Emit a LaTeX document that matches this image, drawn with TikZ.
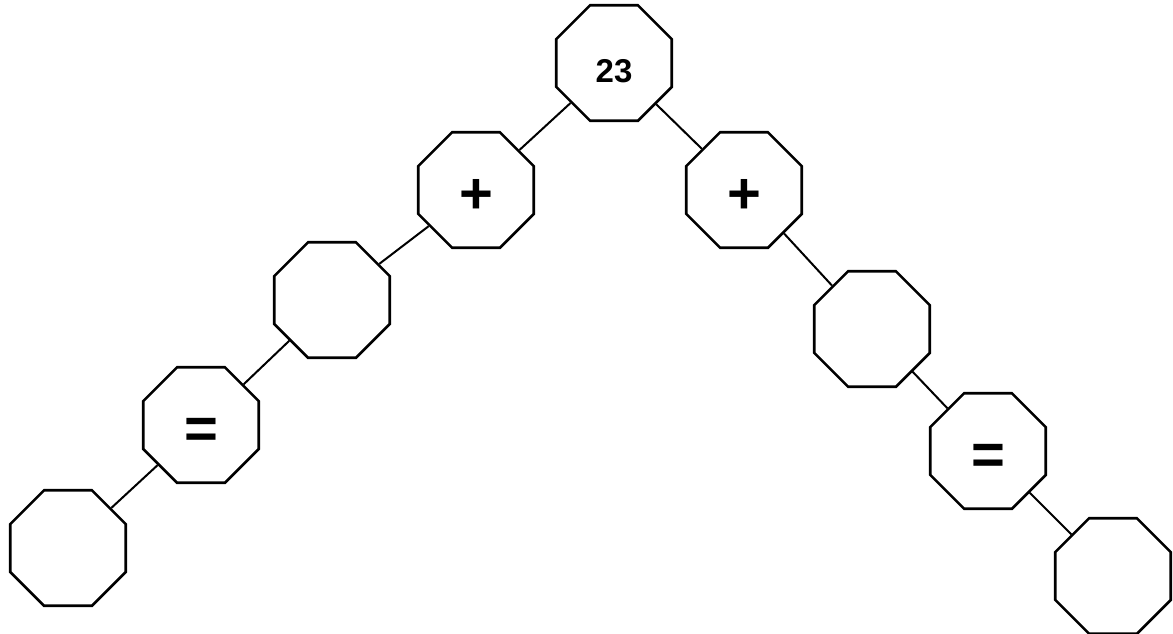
\documentclass[tikz,border=0pt]{standalone}
\usepackage{fontspec}
\setmainfont{Liberation Sans}
\usetikzlibrary{shapes.geometric}

\tikzset{
  oct/.style={draw, line width=2.6pt, regular polygon, regular polygon sides=8,
    minimum size=125pt, inner sep=0pt, text height=39pt, text depth=0pt,
    font=\bfseries\fontsize{33}{33}\selectfont},
  sym/.style={text height=47pt, font=\bfseries\fontsize{58}{58}\selectfont},
  link/.style={line width=2pt}
}

\begin{document}
\begin{tikzpicture}[x=1pt, y=-1pt]
    \useasboundingbox (0,0) rectangle (1173,633);
    % root and the two branches
    \node[oct] (top) at (614,63) {23};
    \node[oct, sym] (lplus) at (476,190) {+};
    \node[oct] (lblank) at (332,300) {};
    \node[oct, sym] (leq) at (201,425) {=};
    \node[oct] (lend) at (68,548) {};
    \node[oct, sym] (rplus) at (744,190) {+};
    \node[oct] (rblank) at (872,329) {};
    \node[oct, sym] (req) at (988,451) {=};
    \node[oct] (rend) at (1113,576) {};
    % connectors
    \draw[link] (top) -- (lplus) -- (lblank) -- (leq) -- (lend);
    \draw[link] (top) -- (rplus) -- (rblank) -- (req) -- (rend);
\end{tikzpicture}
\end{document}
